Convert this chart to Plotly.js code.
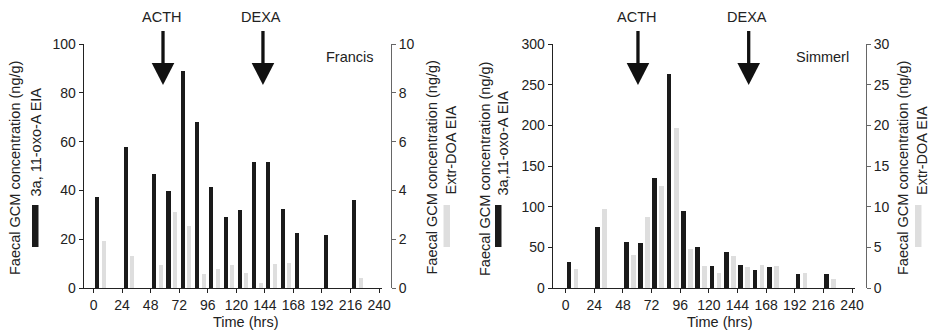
<!DOCTYPE html>
<html>
<head>
<meta charset="utf-8">
<script src="https://cdn.plot.ly/plotly-3.0.1.min.js"></script>
<style>html,body{margin:0;padding:0;background:#fff}#chart{width:929px;height:330px}</style>
</head>
<body>
<div id="chart"></div>
<script>
// ---- data ----
const times = [6, 30, 54, 66, 78, 90, 102, 114, 126, 138, 150, 162, 174, 198, 222];
const francisOxoA = [37.4, 58.0, 46.9, 39.8, 88.8, 68.1, 41.5, 29.2, 32.1, 51.7, 51.7, 32.5, 22.6, 21.8, 36.2];
const francisExtrDOA = [1.95, 1.34, 0.95, 3.14, 2.55, 0.6, 0.8, 0.97, 0.64, 0.22, 1.0, 1.04, 0, 0, 0.44];
const simmerlOxoA = [32.3, 75.3, 57.3, 55.7, 135.5, 263.2, 95.4, 50.8, 27.8, 44.6, 28.7, 22.9, 26.2, 17.6, 17.6];
const simmerlExtrDOA = [2.4, 9.74, 4.1, 8.7, 12.6, 19.7, 4.87, 2.78, 1.92, 4.0, 2.6, 2.87, 2.78, 1.92, 1.19];
const xTicks = [0, 24, 48, 72, 96, 120, 144, 168, 192, 216, 240];
const eventLabels = ['ACTH', 'DEXA'];
const francisEvents = [58.4, 142.4];
const simmerlEvents = [60.6, 153.4];
const animalNames = ['Francis', 'Simmerl'];
const leftTitle = 'Faecal GCM concentration (ng/g)';
const oxoLabels = ['3a, 11-oxo-A EIA', '3a,11-oxo-A EIA'];
const doaLabel = 'Extr-DOA EIA';
const xTitle = 'Time (hrs)';

// ---- layout helpers ----
const W = 929, H = 330;
const px = v => v / W;
const py = v => 1 - v / H;
const FONT = 'Liberation Sans, Arial, sans-serif';
const BLACK = '#1a1a1a', GREY = '#dedede', TXT = '#222';
const FS = 14, FST = 14.5;

const traces = [
  {type:'bar', x: times, y: francisOxoA, xaxis:'x', yaxis:'y', width:3.4, offset:-4.7, marker:{color:BLACK}, showlegend:false},
  {type:'bar', x: times, y: francisExtrDOA, xaxis:'x', yaxis:'y2', width:3.4, offset:0.8, marker:{color:GREY}, showlegend:false},
  {type:'bar', x: times, y: simmerlOxoA, xaxis:'x2', yaxis:'y3', width:4.0, offset:-5.3, marker:{color:BLACK}, showlegend:false},
  {type:'bar', x: times, y: simmerlExtrDOA, xaxis:'x2', yaxis:'y4', width:4.0, offset:0.6, marker:{color:GREY}, showlegend:false}
];

const yDom = [py(288.3), py(44)];
const tickFont = {family: FONT, size: FS, color: TXT};
function xax(d0, d1, r0, r1, anchor) {
  return {domain:[px(d0), px(d1)], range:[r0, r1], anchor: anchor, tickvals: xTicks, ticktext: xTicks.map(String),
    ticks:'outside', ticklen:4, tickcolor:'#222', showline:true, linecolor:'#222', linewidth:1,
    showgrid:false, zeroline:false, tickfont: tickFont, fixedrange:true};
}
function yax(pos, range, dtick, side, color, overlay) {
  const o = {domain: yDom, range: range, dtick: dtick, anchor:'free', position: px(pos), side: side,
    ticks:'outside', ticklen:4, tickcolor: color, showline:true, linecolor: color, linewidth:1,
    showgrid:false, zeroline:false, tickfont: tickFont, fixedrange:true};
  if (overlay) o.overlaying = overlay;
  return o;
}

const shapes = [];
const annotations = [];
function addArrows(events, xref) {
  events.forEach((t, i) => {
    shapes.push({type:'line', xref: xref, yref:'paper', x0:t, x1:t, y0: py(31), y1: py(64), line:{color:'#111', width:3.3}});
    shapes.push({type:'path', xref: xref, yref:'paper', xsizemode:'pixel', ysizemode:'pixel', xanchor:t, yanchor: py(85),
      path:'M -11.3 22 L 11.3 22 L 0 0 Z', fillcolor:'#111', line:{width:0}});
    annotations.push({xref: xref, yref:'paper', x:t - 1.5, y: py(17), text: eventLabels[i], showarrow:false,
      xanchor:'center', yanchor:'middle', font:{family: FONT, size: 14.5, color: TXT}});
  });
}
addArrows(francisEvents, 'x');
addArrows(simmerlEvents, 'x2');

function rotText(xp, yp, text) {
  annotations.push({xref:'paper', yref:'paper', x: px(xp), y: py(yp), text: text, showarrow:false, textangle:-90,
    xanchor:'center', yanchor:'middle', font:{family: FONT, size: FST, color: TXT}});
}
function swatch(x0, x1, color) {
  shapes.push({type:'rect', xref:'paper', yref:'paper', x0: px(x0), x1: px(x1), y0: py(247), y1: py(205), fillcolor: color, line:{width:0}});
}
function plainText(xp, yp, text) {
  annotations.push({xref:'paper', yref:'paper', x: px(xp), y: py(yp), text: text, showarrow:false,
    xanchor:'center', yanchor:'middle', font:{family: FONT, size: FST, color: TXT}});
}

// left panel titles
rotText(15, 168, leftTitle);
rotText(35, 142.5, oxoLabels[0]);
swatch(32, 38.5, BLACK);
rotText(431.5, 168, leftTitle);
rotText(450, 150.5, doaLabel);
swatch(443.5, 450, GREY);
plainText(350, 57, animalNames[0]);
plainText(246.5, 321.5, xTitle);

// right panel titles
rotText(485, 169, leftTitle);
rotText(502, 143.5, oxoLabels[1]);
swatch(495, 501.5, BLACK);
rotText(903, 168, leftTitle);
rotText(921.5, 150.5, doaLabel);
swatch(915, 921.5, GREY);
plainText(822.5, 57, animalNames[1]);
plainText(720, 321.5, xTitle);

const layout = {
  width: W, height: H, margin:{l:0, r:0, t:0, b:0},
  paper_bgcolor:'#fff', plot_bgcolor:'rgba(0,0,0,0)',
  font:{family: FONT, size: FS, color: TXT},
  showlegend:false, bargap:0,
  xaxis: xax(82.7, 381.7, -9.1, 242.2, 'y'),
  yaxis: yax(82.7, [0, 100], 20, 'left', '#222'),
  yaxis2: yax(391, [0, 10], 2, 'right', '#666', 'y'),
  xaxis2: xax(551.7, 855, -11.7, 242.5, 'y3'),
  yaxis3: yax(551.7, [0, 300], 50, 'left', '#222'),
  yaxis4: yax(866, [0, 30], 5, 'right', '#666', 'y3'),
  shapes: shapes,
  annotations: annotations
};

Plotly.newPlot('chart', traces, layout, {staticPlot:true, displayModeBar:false});
</script>
</body>
</html>
